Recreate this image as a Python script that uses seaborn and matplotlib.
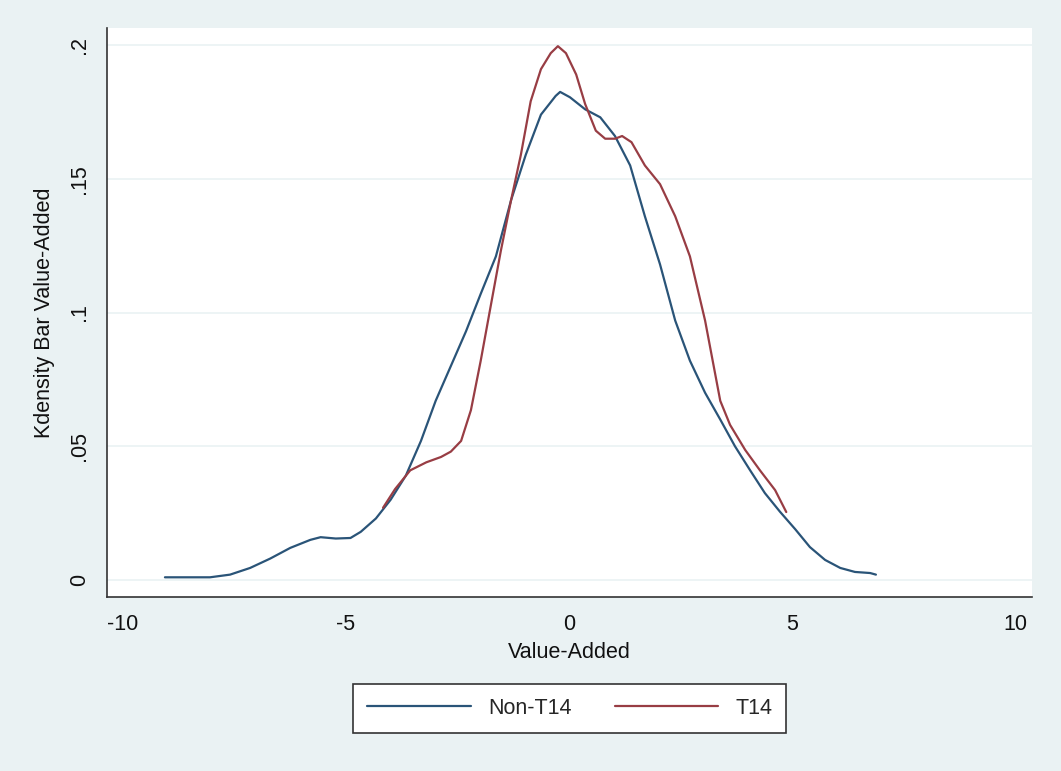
import numpy as np
import pandas as pd
import matplotlib
matplotlib.use("Agg")
import matplotlib.pyplot as plt
import seaborn as sns

# kdensity
non_x = [-9.06, -8.05, -7.6, -7.15, -6.7, -6.25, -5.8, -5.57, -5.23, -4.9, -4.67, -4.33,
         -4.0, -3.66, -3.32, -2.99, -2.65, -2.31, -1.98, -1.64, -1.30, -0.97, -0.63,
         -0.30, -0.2, 0.02, 0.36, 0.7, 1.03, 1.37, 1.7, 2.04, 2.38, 2.71, 3.05, 3.39,
         3.72, 4.06, 4.39, 4.73, 5.07, 5.40, 5.74, 6.08, 6.41, 6.75, 6.88]
non_y = [0.001, 0.001, 0.002, 0.0045, 0.008, 0.012, 0.015, 0.016, 0.0155, 0.0157, 0.018, 0.023,
         0.030, 0.039, 0.052, 0.067, 0.080, 0.093, 0.107, 0.121, 0.142, 0.159, 0.174,
         0.181, 0.1825, 0.1805, 0.176, 0.173, 0.166, 0.155, 0.136, 0.118, 0.097, 0.082, 0.070, 0.060,
         0.050, 0.041, 0.0325, 0.0255, 0.019, 0.0123, 0.0075, 0.0045, 0.003, 0.0026, 0.002]

t14_x = [-4.17, -3.9, -3.56, -3.2, -2.87, -2.65, -2.42, -2.2, -1.98, -1.75, -1.53, -1.30,
         -1.08, -0.86, -0.63, -0.41, -0.25, -0.07, 0.16, 0.36, 0.6, 0.81, 1.03, 1.19, 1.4,
         1.7, 2.04, 2.38, 2.71, 3.05, 3.39, 3.61, 3.95, 4.28, 4.62, 4.87]
t14_y = [0.027, 0.034, 0.041, 0.044, 0.046, 0.048, 0.052, 0.0635, 0.082, 0.103, 0.123, 0.142,
         0.159, 0.179, 0.191, 0.197, 0.1996, 0.197, 0.189, 0.178, 0.168, 0.165, 0.165, 0.166, 0.1637,
         0.155, 0.148, 0.136, 0.121, 0.097, 0.067, 0.058, 0.0486, 0.041, 0.0336, 0.0254]

groups = ["Non-T14", "T14"]
xticks = [-10, -5, 0, 5, 10]
yticks = [0, 0.05, 0.1, 0.15, 0.2]
ytick_labels = ["0", ".05", ".1", ".15", ".2"]

df = pd.DataFrame({
    "x": non_x + t14_x,
    "y": non_y + t14_y,
    "group": ["Non-T14"] * len(non_x) + ["T14"] * len(t14_x),
})

sns.set_style("white")
plt.rcParams["font.family"] = ["Liberation Sans", "DejaVu Sans"]
plt.rcParams["axes.unicode_minus"] = False

bg = "#eaf2f3"
fig = plt.figure(figsize=(10.61, 7.71), dpi=100, facecolor=bg)
ax = fig.add_axes([0.1008, 0.2257, 0.8719, 0.738])
ax.set_facecolor("white")

sns.lineplot(data=df, x="x", y="y", hue="group", hue_order=groups,
             palette={"Non-T14": "#2a5478", "T14": "#983d44"},
             linewidth=1.6, estimator=None, sort=True, ax=ax)

ax.set_xlim(-10.36, 10.38)
ax.set_ylim(-0.00636, 0.2064)
ax.set_xticks(xticks)
ax.set_yticks(yticks)
ax.set_yticklabels(ytick_labels, rotation=90, va="center")
for t in yticks:
    ax.axhline(t, color=bg, lw=1.2, zorder=0)

for s in ["top", "right"]:
    ax.spines[s].set_visible(False)
for s in ["left", "bottom"]:
    ax.spines[s].set_color("#333333")
    ax.spines[s].set_linewidth(1.2)
ax.tick_params(axis="both", direction="out", length=8, width=1.1, color="#333333",
               labelsize=15.5, labelcolor="#111111", pad=4)

ax.set_xlabel("Value-Added", fontsize=15.5, color="#111111", labelpad=5)
ax.set_ylabel("Kdensity Bar Value-Added", fontsize=15.5, color="#111111", labelpad=10)

handles, labels = ax.get_legend_handles_labels()
ax.legend_.remove()
leg = fig.legend(handles, labels, loc="center", bbox_to_anchor=(0.537, 0.0817), ncol=2,
                 fontsize=15.5, frameon=True, fancybox=False, framealpha=1,
                 facecolor="white", handlelength=4.8, columnspacing=2.0,
                 handletextpad=0.8, borderpad=0.65)
leg.get_frame().set_edgecolor("#333333")
leg.get_frame().set_linewidth(1.2)
for line in leg.get_lines():
    line.set_linewidth(1.6)

fig.savefig("out.png", dpi=100, facecolor=bg)
